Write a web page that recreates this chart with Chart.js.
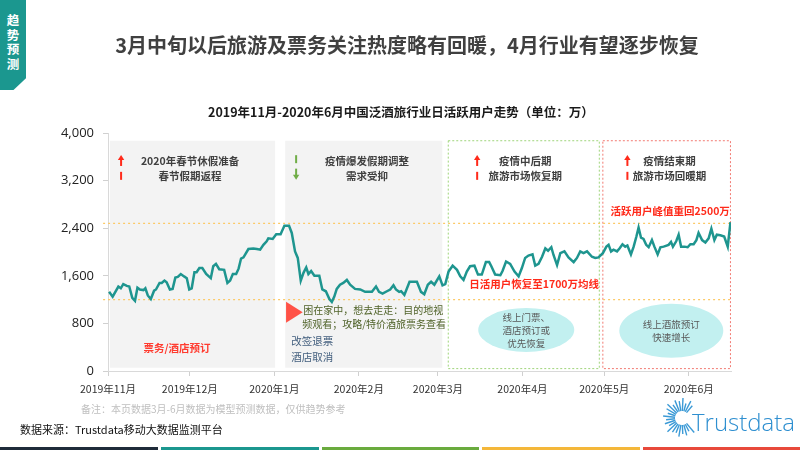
<!DOCTYPE html>
<html>
<head>
<meta charset="utf-8">
<script src="https://cdn.jsdelivr.net/npm/chart.js@4.4.1/dist/chart.umd.min.js"></script>
<style>
  body { margin: 0; background: #fff; font-family: "Noto Sans CJK SC", "Noto Sans", sans-serif; }
  #page { position: relative; width: 800px; height: 450px; overflow: hidden; }
  #chartBox { position: absolute; left: 0; top: 0; width: 800px; height: 450px; }
  .txt { position: absolute; white-space: nowrap; }
  .tab { position: absolute; left: 0; top: 0; width: 26px; height: 90px; background: #1b978f;
         clip-path: polygon(0 0, 100% 0, 100% 87%, 52% 100%, 0 100%);
         color: #fff; font-weight: bold; font-size: 12.5px; line-height: 14.5px; text-align: center;
         padding-top: 13px; box-sizing: border-box; }
  .title { left: 0; width: 814px; top: 33px; text-align: center; font-size: 20px; line-height: 24px; font-weight: bold; color: #404040; }
  .sub { left: 0; width: 802px; top: 104px; text-align: center; font-size: 12.5px; line-height: 16px; font-weight: bold; color: #1a1a1a; }
  .note { left: 81px; top: 402px; font-size: 10px; line-height: 14px; color: #bfbfbf; }
  .src { left: 20px; top: 421px; font-size: 11px; line-height: 16px; color: #111; }
  .logo { left: 692px; top: 410px; font-family: "Open Sans", sans-serif; font-weight: 300; font-size: 24px; line-height: 24px; color: #2e8fd0; }
  .bar { position: absolute; top: 447px; height: 3px; }
</style>
</head>
<body>
<div id="page">
  <div id="chartBox"><canvas id="chart"></canvas></div>
  <div class="tab">趋<br>势<br>预<br>测</div>
  <div class="txt title">3月中旬以后旅游及票务关注热度略有回暖，4月行业有望逐步恢复</div>
  <div class="txt sub">2019年11月-2020年6月中国泛酒旅行业日活跃用户走势（单位：万）</div>
  <div class="txt note">备注：本页数据3月-6月数据为模型预测数据，仅供趋势参考</div>
  <div class="txt src">数据来源：Trustdata移动大数据监测平台</div>
  <div class="txt logo">Trustdata</div>
  <div class="bar" style="left:0;width:158px;background:#1f2b3a"></div>
  <div class="bar" style="left:161px;width:158px;background:#1b978f"></div>
  <div class="bar" style="left:322px;width:157px;background:#6aab3e"></div>
  <div class="bar" style="left:482px;width:158px;background:#f4b73a"></div>
  <div class="bar" style="left:643px;width:157px;background:#e8493b"></div>
</div>
<script>
// month tick labels and their day offsets from 2019-11-01
const monthLabels = ['2019年11月', '2019年12月', '2020年1月', '2020年2月', '2020年3月', '2020年4月', '2020年5月', '2020年6月'];
const monthStart = [0, 30, 61, 92, 121, 152, 182, 213];

// daily active users (万), read at the turning points of the line
const days = [
  0.4, 1.7, 3.8, 4.7, 5.6, 6.9, 7.8, 8.9, 9.9, 10.8, 11.7, 13.0, 13.7, 14.6, 15.7, 16.9, 17.6, 18.9, 19.7, 20.7,
  21.5, 22.7, 23.7, 24.7, 25.6, 26.7, 27.9, 28.9, 29.8, 30.7, 31.7, 32.5, 33.5, 34.6, 36.0, 37.7, 38.6, 39.6, 40.8, 42.6,
  43.8, 44.8, 45.8, 47.0, 47.9, 48.8, 49.7, 51.5, 53.3, 54.6, 55.8, 57.0, 58.2, 58.8, 60.4, 61.7, 63.3, 64.7, 66.4, 67.4,
  68.6, 69.6, 70.7, 71.7, 72.7, 73.5, 74.5, 75.7, 77.5, 78.6, 79.9, 81.2, 82.1, 83.0, 83.9, 85.1, 86.3, 87.6, 88.8, 90.6,
  92.5, 94.3, 96.8, 98.3, 99.4, 100.7, 102.3, 103.5, 104.7, 105.6, 106.8, 107.5, 108.7, 110.6, 113.3, 114.8, 116.0, 117.3, 118.5, 119.7,
  121.5, 122.7, 123.7, 124.9, 126.4, 128.0, 129.2, 130.4, 131.6, 132.8, 134.4, 135.7, 137.1, 138.6, 139.8, 140.6, 142.0, 143.9, 144.7, 146.0,
  147.5, 149.1, 150.6, 151.8, 153.0, 154.2, 155.7, 156.7, 157.9, 159.2, 160.4, 161.4, 162.6, 163.4, 164.7, 165.9, 167.4, 168.9, 170.8, 172.0,
  173.2, 174.4, 175.7, 177.5, 178.7, 179.9, 181.5, 182.8, 183.6, 184.5, 185.4, 186.7, 187.6, 188.7, 189.7, 190.5, 191.8, 192.8, 193.8, 194.6,
  195.5, 196.4, 197.4, 198.3, 199.5, 200.4, 201.6, 202.6, 203.8, 205.6, 206.5, 207.2, 208.4, 209.3, 210.2, 211.4, 212.6, 213.6, 214.8, 215.8,
  216.6, 217.9, 219.1, 220.3, 221.3, 222.4, 223.3, 224.6, 226.0, 227.3, 228.3
];
const users = [
  1330, 1250, 1420, 1390, 1460, 1430, 1420, 1230, 1180, 1400, 1370, 1360, 1390, 1270, 1210, 1350, 1370, 1480, 1480, 1520,
  1490, 1370, 1380, 1570, 1580, 1630, 1590, 1560, 1370, 1390, 1660, 1660, 1730, 1730, 1630, 1560, 1760, 1800, 1710, 1700,
  1480, 1520, 1630, 1630, 1720, 1890, 1910, 2050, 2060, 2050, 2040, 2120, 2180, 2230, 2220, 2300, 2300, 2440, 2440, 2320,
  2010, 1900, 1520, 1650, 1740, 1630, 1680, 1600, 1600, 1370, 1340, 1210, 1160, 1250, 1380, 1450, 1480, 1530, 1450, 1380,
  1370, 1330, 1330, 1420, 1330, 1300, 1340, 1370, 1440, 1370, 1330, 1340, 1280, 1500, 1500, 1330, 1290, 1450, 1500, 1450,
  1590, 1440, 1460, 1670, 1770, 1700, 1590, 1530, 1670, 1760, 1770, 1620, 1620, 1830, 1830, 1760, 1620, 1610, 1680, 1840,
  1800, 1670, 1590, 1730, 1900, 1940, 1960, 1770, 1800, 1920, 2060, 2020, 2080, 1950, 1780, 1980, 2010, 1910, 1830, 1900,
  2010, 1980, 2010, 1920, 1900, 1910, 1980, 2090, 2120, 2010, 2040, 2010, 2060, 2130, 2090, 2110, 1960, 2090, 2260, 2410,
  2240, 2220, 2120, 2080, 2200, 2090, 1960, 2080, 2090, 2120, 2170, 2090, 2180, 2290, 2090, 2090, 2080, 2130, 2130, 2200,
  2320, 2200, 2160, 2230, 2390, 2200, 2290, 2280, 2260, 2090, 2500
];

// reference lines (万)
const peakLine = 2480;
const avgLine = 1200;

const CJK = '"Noto Sans CJK SC", "Noto Sans", sans-serif';

function upArrow(ctx, x, y, color) {
  ctx.fillStyle = color;
  ctx.beginPath();
  ctx.moveTo(x, y - 6);
  ctx.lineTo(x + 3.2, y - 1);
  ctx.lineTo(x - 3.2, y - 1);
  ctx.closePath();
  ctx.fill();
  ctx.fillRect(x - 1, y - 1.5, 2, 6.5);
}
function downArrow(ctx, x, y, color) {
  ctx.fillStyle = color;
  ctx.fillRect(x - 1, y - 6, 2, 6.5);
  ctx.beginPath();
  ctx.moveTo(x, y + 5);
  ctx.lineTo(x + 3.2, y);
  ctx.lineTo(x - 3.2, y);
  ctx.closePath();
  ctx.fill();
}
function dash(ctx, x, y, color) {
  ctx.fillStyle = color;
  ctx.fillRect(x - 1, y - 4, 2, 8);
}

const decor = {
  id: 'decor',
  beforeDatasetsDraw(chart) {
    const { ctx, scales: { x, y } } = chart;
    const X = v => x.getPixelForValue(v), Y = v => y.getPixelForValue(v);
    ctx.save();
    // shaded periods
    ctx.fillStyle = '#f3f3f3';
    ctx.fillRect(X(0.7), Y(3870), X(61.3) - X(0.7), Y(55) - Y(3870));
    ctx.fillRect(X(65), Y(3870), X(122.6) - X(65), Y(55) - Y(3870));
    // dashed period boxes
    ctx.lineWidth = 1;
    ctx.setLineDash([2, 2]);
    ctx.strokeStyle = '#9fd47a';
    ctx.strokeRect(X(124.8), Y(3870), X(180.2) - X(124.8), Y(40) - Y(3870));
    ctx.strokeStyle = '#f27a72';
    ctx.strokeRect(X(181.5), Y(3870), X(228.3) - X(181.5), Y(40) - Y(3870));
    // reference lines
    ctx.strokeStyle = '#fcc966';
    ctx.lineWidth = 1.3;
    ctx.setLineDash([2, 3]);
    [peakLine, avgLine].forEach(v => {
      ctx.beginPath();
      ctx.moveTo(X(-1.8), Y(v));
      ctx.lineTo(X(229), Y(v));
      ctx.stroke();
    });
    ctx.setLineDash([]);
    // ellipses
    ctx.fillStyle = '#c2f0f0';
    ctx.beginPath();
    ctx.ellipse(X(153.4), Y(690), 48, 22, 0, 0, Math.PI * 2);
    ctx.fill();
    ctx.beginPath();
    ctx.ellipse(X(206.6), Y(677), 52, 27, 0, 0, Math.PI * 2);
    ctx.fill();
    ctx.restore();
  },
  afterDatasetsDraw(chart) {
    const { ctx, scales: { x, y } } = chart;
    const X = v => x.getPixelForValue(v), Y = v => y.getPixelForValue(v);
    ctx.save();
    ctx.textBaseline = 'middle';
    const text = (s, d, v, font, color, align) => {
      ctx.font = font + ' ' + CJK;
      ctx.fillStyle = color;
      ctx.textAlign = align || 'center';
      ctx.fillText(s, X(d), Y(v));
    };
    const head = 'bold 10.5px';
    const red = '#ff2a1a', green = '#70ad47';
    // period 1
    upArrow(ctx, X(4.8), Y(3530), red);
    dash(ctx, X(4.8), Y(3280), red);
    text('2020年春节休假准备', 30.1, 3530, head, '#404040');
    text('春节假期返程', 30.1, 3280, head, '#404040');
    text('票务/酒店预订', 25.3, 392, head, '#ff3b2f');
    // period 2
    dash(ctx, X(69), Y(3560), green);
    downArrow(ctx, X(69), Y(3300), green);
    text('疫情爆发假期调整', 95, 3530, head, '#404040');
    text('需求受抑', 95, 3280, head, '#404040');
    ctx.fillStyle = '#ff5247';
    ctx.beginPath();
    ctx.moveTo(X(65.3), Y(1164));
    ctx.lineTo(X(71.4), Y(988));
    ctx.lineTo(X(65.3), Y(812));
    ctx.closePath();
    ctx.fill();
    text('困在家中，想去走走：目的地视', 71.6, 1030, '10px', '#4f6228', 'left');
    text('频观看；攻略/特价酒旅票务查看', 71.2, 790, '10px', '#4f6228', 'left');
    text('改签退票', 67.2, 510, '10.5px', '#44607f', 'left');
    text('酒店取消', 67.2, 241, '10.5px', '#44607f', 'left');
    // period 3
    upArrow(ctx, X(135.4), Y(3530), red);
    dash(ctx, X(135.4), Y(3280), red);
    text('疫情中后期', 153, 3530, head, '#404040');
    text('旅游市场恢复期', 153, 3280, head, '#404040');
    text('日活用户恢复至1700万均线', 156.3, 1466, head, '#ff2a1a');
    text('线上门票、', 153.4, 895, '9.5px', '#595959');
    text('酒店预订或', 153.4, 680, '9.5px', '#595959');
    text('优先恢复', 153.4, 470, '9.5px', '#595959');
    // period 4
    upArrow(ctx, X(190.5), Y(3530), red);
    dash(ctx, X(190.5), Y(3280), red);
    text('疫情结束期', 205.9, 3530, head, '#404040');
    text('旅游市场回暖期', 205.9, 3280, head, '#404040');
    text('活跃用户峰值重回2500万', 206.2, 2690, head, '#ff2a1a');
    text('线上酒旅预订', 206.6, 780, '9.5px', '#595959');
    text('快速增长', 206.6, 560, '9.5px', '#595959');
    ctx.restore();
  },
  afterDraw(chart) {
    // Trustdata sunburst mark, open towards the lettering
    const ctx = chart.ctx;
    const cx = 682, cy = 418;
    ctx.save();
    ctx.strokeStyle = '#3b9ad6';
    ctx.lineWidth = 1.4;
    const lens = [9, 12, 8, 13, 10, 12, 9, 13, 11, 8, 12, 9, 11, 8, 13, 10, 9, 12, 9, 11, 8, 12];
    lens.forEach((len, i) => {
      const a = (50 + i * (260 / (lens.length - 1))) * Math.PI / 180;
      const dx = Math.cos(a), dy = -Math.sin(a);
      ctx.beginPath();
      ctx.moveTo(cx + dx * 7, cy + dy * 7);
      ctx.lineTo(cx + dx * (7 + len), cy + dy * (7 + len));
      ctx.stroke();
    });
    ctx.restore();
  }
};

new Chart(document.getElementById('chart'), {
  type: 'line',
  data: {
    datasets: [{
      label: '日活跃用户',
      data: days.map((d, i) => ({ x: d, y: users[i] })),
      borderColor: '#1e958f',
      borderWidth: 2.5,
      pointRadius: 0,
      tension: 0,
      fill: false
    }]
  },
  options: {
    responsive: true,
    maintainAspectRatio: false,
    animation: false,
    layout: { padding: { left: 0, right: 69, top: 133, bottom: 49 } },
    plugins: { legend: { display: false }, tooltip: { enabled: false } },
    scales: {
      x: {
        type: 'linear',
        min: 0,
        max: 228.5,
        afterBuildTicks: s => { s.ticks = monthStart.map(v => ({ value: v })); },
        afterFit: s => { s.height = 30; },
        ticks: {
          autoSkip: false,
          maxRotation: 0,
          padding: 7,
          color: '#333',
          font: { size: 10.5, family: CJK },
          callback: (v, i) => monthLabels[i]
        },
        grid: { drawOnChartArea: false, drawTicks: true, tickLength: 5, color: '#d0d0d0' },
        border: { color: '#d9d9d9' }
      },
      y: {
        min: 0,
        max: 4000,
        afterFit: s => { s.width = 108; },
        ticks: {
          stepSize: 800,
          padding: 9,
          color: '#222',
          font: { size: 13, family: '"Open Sans", "Noto Sans", sans-serif' },
          callback: v => v.toLocaleString('en-US')
        },
        grid: { drawOnChartArea: false, drawTicks: true, tickLength: 5, color: '#d0d0d0' },
        border: { color: '#d9d9d9' }
      }
    }
  },
  plugins: [decor]
});
</script>
</body>
</html>
